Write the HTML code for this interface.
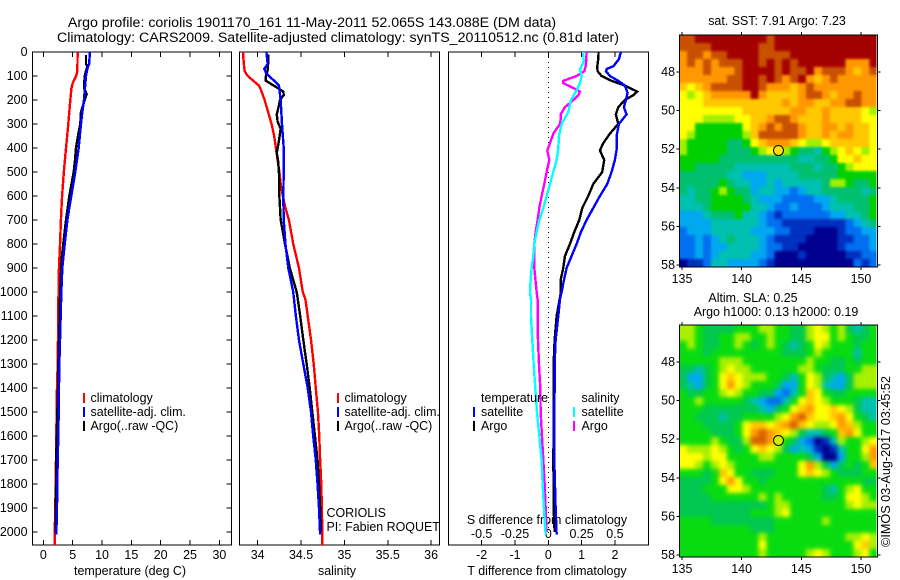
<!DOCTYPE html>
<html lang="en">
<head>
<meta charset="utf-8">
<title>Argo profile</title>
<style>
html,body{margin:0;padding:0;background:#fff;width:900px;height:580px;overflow:hidden}
svg{display:block}
text{font-family:"Liberation Sans",Arial,sans-serif;font-size:12.45px;fill:#000}
text.fig-title{font-size:14.2px}
text.stamp{font-size:12.65px}
</style>
</head>
<body>
<svg id="chart" width="900" height="580" viewBox="0 0 900 580" xmlns="http://www.w3.org/2000/svg">
<defs>
<filter id="blur-sst" x="-5%" y="-5%" width="110%" height="110%" color-interpolation-filters="sRGB"><feGaussianBlur stdDeviation="1.4"/></filter>
<filter id="blur-sla" x="-5%" y="-5%" width="110%" height="110%" color-interpolation-filters="sRGB"><feGaussianBlur stdDeviation="2.2"/></filter>
<clipPath id="clip-sst"><rect x="679.5" y="35" width="197" height="232"/></clipPath>
<clipPath id="clip-sla"><rect x="679.5" y="325" width="197" height="232"/></clipPath>
</defs>
<text class="fig-title" x="312" y="27" text-anchor="middle">Argo profile: coriolis 1901170_161 11-May-2011 52.065S 143.088E (DM data)</text>
<text class="fig-title" x="338" y="42" text-anchor="middle">Climatology: CARS2009. Satellite-adjusted climatology: synTS_20110512.nc (0.81d later)</text>
<text x="777" y="25" text-anchor="middle">sat. SST: 7.91 Argo: 7.23</text>
<text x="753" y="302" text-anchor="middle">Altim. SLA: 0.25</text>
<text x="776" y="316" text-anchor="middle">Argo h1000: 0.13 h2000: 0.19</text>
<text class="stamp" transform="translate(890,547) rotate(-90)">©IMOS 03-Aug-2017 03:45:52</text>
<text x="130" y="575" text-anchor="middle">temperature (deg C)</text>
<text x="337" y="575" text-anchor="middle">salinity</text>
<text x="547" y="575" text-anchor="middle">T difference from climatology</text>
<text x="547" y="524" text-anchor="middle">S difference from climatology</text>
<text x="326.5" y="517">CORIOLIS</text>
<text x="326.5" y="531">PI: Fabien ROQUET</text>
</svg>
<script>
// Axis ticks
const depthTicks = [0,100,200,300,400,500,600,700,800,900,1000,1100,1200,1300,1400,1500,1600,1700,1800,1900,2000];
const tempTicks = [0,5,10,15,20,25,30];
const salTicks = [34,34.5,35,35.5,36];
const tDiffTicks = [-2,-1,0,1,2];
const sDiffTicks = [-0.5,-0.25,0,0.25,0.5];
const lonTicks = [135,140,145,150];
const latTicks = [48,50,52,54,56,58];

// Temperature panel
const tempClimDepth = [0,80,100,130,150,200,300,400,500,600,700,800,900,1000,1100,1200,1300,1400,1500,1600,1700,1800,1900,2000,2054];
const tempClim = [5.85,5.8,5.6,5.0,4.8,4.6,4.26,3.87,3.5,3.2,3.0,2.85,2.67,2.6,2.5,2.5,2.45,2.33,2.28,2.2,2.16,2.1,2.05,1.94,1.94];
const tempSatDepth = [0,50,60,100,150,200,250,300,400,500,600,700,800,900,1000,1100,1200,1300,1400,1500,1600,1700,1800,1900,2010];
const tempSat = [7.95,7.8,7.6,7.27,7.1,6.93,6.65,6.42,6.03,5.45,4.77,4.1,3.65,3.24,3.07,2.96,2.85,2.73,2.67,2.62,2.56,2.45,2.39,2.33,2.22];
const tempArgoDepth = [12,50,60,100,150,175,200,250,300,350,400,450,500,600,700,800,860,1000,1100,1200,1300,1400,1500,1600,1700,1800,1900,2000];
const tempArgo = [7.27,7.27,7.5,7.05,6.93,7.39,7.05,6.42,6.3,5.9,5.57,5.4,5.18,4.43,3.87,3.4,3.13,2.85,2.8,2.67,2.56,2.5,2.39,2.33,2.16,2.16,2.1,2.1];

// Salinity panel
const salClimDepth = [0,50,80,100,120,140,160,200,250,300,350,400,450,500,550,600,650,700,800,900,1000,1030,1100,1200,1300,1400,1500,1600,1700,1800,1900,2000,2054];
const salClim = [33.83,33.84,33.85,33.885,33.95,34.015,34.04,34.08,34.12,34.16,34.19,34.21,34.23,34.25,34.265,34.29,34.32,34.36,34.41,34.476,34.52,34.55,34.577,34.615,34.646,34.67,34.695,34.71,34.72,34.733,34.74,34.745,34.745];
const salSatDepth = [0,50,70,90,120,140,200,300,400,500,600,700,800,900,1000,1100,1200,1300,1400,1500,1600,1700,1800,1900,2010];
const salSat = [34.10,34.115,34.076,34.10,34.19,34.245,34.265,34.28,34.30,34.30,34.295,34.30,34.32,34.353,34.41,34.44,34.476,34.526,34.577,34.615,34.64,34.67,34.69,34.707,34.72];
const salArgoDepth = [10,50,75,100,120,130,150,165,180,200,230,260,290,320,370,420,450,500,600,700,800,900,1000,1100,1200,1300,1400,1500,1600,1700,1800,1900,2000];
const salArgo = [34.12,34.12,34.115,34.095,34.095,34.14,34.23,34.295,34.30,34.257,34.24,34.22,34.23,34.265,34.245,34.22,34.234,34.245,34.25,34.265,34.315,34.37,34.45,34.49,34.526,34.565,34.60,34.63,34.66,34.69,34.707,34.72,34.73];

// Difference panel
const tDiffSatDepth = [0,30,60,70,80,100,120,140,170,200,230,260,300,350,400,450,500,550,600,650,700,750,800,850,900,950,1000,1030,1100,1200,1300,1400,1500,1600,1700,1800,1900,2010];
const tDiffSat = [2.18,2.12,1.95,1.76,1.73,1.85,2.1,2.3,2.38,2.33,2.27,2.35,2.12,2.05,2.06,2.0,1.9,1.77,1.55,1.35,1.15,0.98,0.85,0.7,0.55,0.47,0.4,0.35,0.3,0.22,0.19,0.19,0.18,0.18,0.18,0.2,0.22,0.25];
const tDiffArgoDepth = [0,30,60,80,100,120,140,165,180,200,230,260,300,340,380,410,450,500,550,600,650,700,750,800,850,900,950,1000,1100,1200,1300,1400,1500,1600,1700,1800,1900,2000];
const tDiffArgo = [1.51,1.5,1.47,1.48,1.6,1.9,2.3,2.67,2.55,2.3,2.1,2.03,2.1,1.85,1.65,1.55,1.68,1.62,1.35,1.2,1.02,0.93,0.78,0.65,0.5,0.45,0.37,0.38,0.25,0.19,0.16,0.16,0.16,0.16,0.15,0.16,0.16,0.19];
const sDiffSatDepth = [0,40,75,100,130,160,200,250,300,350,400,450,500,550,600,650,700,750,800,850,900,950,1000,1033,1100,1200,1300,1400,1500,1600,1700,1800,1900,2010];
const sDiffSat = [0.2625,0.265,0.2375,0.25,0.2375,0.2125,0.17,0.15,0.1,0.08,0.075,0.0625,0.0375,0.0125,-0.0125,-0.0375,-0.0675,-0.0875,-0.105,-0.1125,-0.125,-0.1325,-0.1375,-0.13,-0.13,-0.12,-0.11,-0.0975,-0.085,-0.0675,-0.05,-0.0425,-0.0325,-0.02];
const sDiffArgoDepth = [0,30,60,80,100,120,130,150,165,180,200,230,260,280,300,340,380,410,450,500,550,600,650,700,750,800,900,1000,1033,1100,1200,1300,1400,1500,1600,1700,1800,1900,2000];
const sDiffArgo = [0.2875,0.285,0.28,0.27,0.2125,0.1125,0.1125,0.1875,0.2375,0.225,0.1875,0.125,0.0925,0.0925,0.0875,0.0375,0.0125,-0.0075,0.0075,-0.0125,-0.03,-0.05,-0.0675,-0.08,-0.095,-0.105,-0.105,-0.0875,-0.08,-0.08,-0.0775,-0.07,-0.06,-0.0575,-0.0475,-0.0375,-0.0275,-0.02,-0.0125];

// Map cell values: colour-scale levels, north to south, west to east
const sstGrid = [
[11,11,12,12,12,12,12,12,12,12,12,11,12,12,12,12,12,12,12,12,12,12,12,12,12],
[11,11,11,11,12,12,12,12,12,12,11,11,12,12,12,12,12,12,12,12,12,12,12,12,12],
[10,11,11,10,11,11,12,12,12,12,11,11,11,11,12,12,12,12,12,12,12,12,12,12,12],
[10,11,10,11,10,11,11,11,12,12,11,12,11,12,11,12,12,12,12,12,12,10,10,10,12],
[10,10,10,11,10,10,10,11,12,12,12,12,11,12,11,11,12,10,11,11,11,10,9,10,11],
[10,10,10,10,10,10,11,11,12,12,11,12,11,10,11,12,10,9,10,11,10,10,10,10,10],
[9,8,9,10,11,11,11,11,12,12,11,10,10,10,9,10,11,10,10,10,10,10,10,10,10],
[8,7,8,9,10,10,10,10,10,12,10,9,9,9,9,10,11,11,10,9,10,10,11,10,10],
[8,8,8,9,9,9,9,9,9,9,9,9,9,10,9,10,10,9,9,10,10,11,11,10,10],
[8,8,8,8,8,8,8,8,9,9,9,9,9,9,10,10,9,9,10,9,9,9,9,8,7],
[8,8,8,7,7,7,7,8,8,9,9,10,11,11,10,9,9,9,10,9,9,9,9,8,8],
[8,8,6,6,6,6,6,6,8,9,10,11,10,11,11,10,9,9,10,10,9,10,9,9,8],
[8,7,6,6,6,6,6,6,7,9,11,11,11,11,11,10,9,9,10,9,10,10,9,9,8],
[7,6,6,6,6,6,5,5,6,8,9,10,10,10,9,8,7,7,8,9,9,9,9,9,8],
[7,6,6,6,6,6,5,5,5,6,7,8,8,7,6,5,5,4,6,7,8,9,8,7,8],
[6,6,6,6,6,5,5,5,5,5,5,5,5,5,5,4,4,5,5,6,8,8,9,8,8],
[6,6,5,5,5,5,5,4,4,4,4,4,4,4,5,5,5,4,5,5,6,7,8,8,8],
[5,5,5,5,5,5,4,4,3,3,3,4,4,4,4,5,5,5,5,5,6,6,6,6,6],
[5,5,5,5,5,6,5,4,4,3,3,4,3,4,4,4,4,4,5,7,7,6,5,5,6],
[5,4,5,5,6,7,6,5,5,3,4,4,3,3,2,3,4,4,5,5,5,5,5,4,5],
[4,4,5,5,6,6,6,6,5,4,3,3,3,2,2,2,2,3,3,4,5,5,5,5,6],
[4,4,4,5,6,6,6,6,6,4,4,3,2,2,3,2,2,2,3,4,4,4,5,5,6],
[3,3,3,4,5,5,5,6,4,4,3,2,1,2,2,2,2,2,2,3,3,4,4,5,6],
[3,3,3,3,4,4,4,4,4,4,3,2,2,1,1,1,1,1,1,1,1,2,3,4,5],
[2,3,3,3,4,4,4,4,4,3,3,3,2,2,1,1,1,0,0,0,1,2,2,3,3],
[2,2,3,2,3,4,5,4,4,4,3,2,1,1,1,1,0,0,0,0,1,1,2,2,3],
[2,2,3,2,3,3,4,4,4,4,3,2,2,1,1,0,0,0,0,0,1,2,2,2,3],
[2,2,3,2,3,4,4,4,4,3,3,2,0,0,0,1,0,0,0,0,0,1,1,2,2],
[0,1,1,2,4,4,3,3,3,3,2,1,0,0,0,0,0,0,0,0,0,0,2,1,2]
];
const slaGrid = [
[7,7,6,5,5,5,5,6,6,6,7,7,6,6,5,5,7,8,7,6,7,5,4,5,6],
[7,7,6,5,5,6,6,7,7,6,6,7,6,6,5,5,7,8,8,6,7,6,5,5,6],
[6,7,6,5,5,6,6,7,6,5,6,7,6,5,4,5,6,8,7,6,6,6,5,6,6],
[6,6,6,5,6,6,6,6,6,6,6,6,6,5,5,5,6,7,6,6,6,6,4,6,6],
[6,6,6,6,6,7,7,7,6,6,6,6,6,6,6,6,7,6,6,5,5,6,5,6,6],
[5,5,4,5,6,7,8,7,7,6,6,6,6,6,6,7,7,6,5,5,5,6,6,7,7],
[5,3,3,5,6,8,9,8,7,7,7,6,6,5,4,6,8,7,5,4,3,5,7,7,7],
[5,4,3,5,6,8,10,8,7,6,6,6,5,3,3,6,8,7,4,3,3,5,7,7,7],
[6,5,5,6,6,7,8,7,6,6,5,5,3,2,4,6,9,8,6,5,5,6,6,6,6],
[6,6,7,6,6,6,6,6,5,4,3,2,2,4,6,8,9,8,7,6,6,6,5,4,4],
[6,6,6,5,5,5,5,5,5,5,4,3,5,6,8,9,10,8,8,9,8,7,5,4,4],
[6,6,5,5,5,4,5,5,6,6,6,6,7,8,10,11,9,8,8,9,10,8,6,5,4],
[6,6,6,5,5,5,5,6,8,9,9,8,9,10,11,9,8,7,7,8,10,9,7,6,6],
[6,6,6,6,5,5,5,6,8,10,11,10,9,8,7,5,4,4,5,6,9,10,8,6,6],
[6,6,6,6,7,6,5,5,7,11,11,10,8,6,5,3,2,0,1,4,7,6,6,7,8],
[8,7,7,7,8,7,6,5,6,8,9,8,7,5,3,4,3,1,0,1,4,6,6,8,10],
[8,8,8,7,8,8,6,6,6,6,7,7,6,6,6,6,5,3,0,0,3,6,6,7,10],
[8,8,7,6,7,8,7,6,6,6,6,6,6,6,6,8,10,7,5,3,5,6,5,6,9],
[6,6,6,5,6,9,8,6,6,5,5,5,6,6,6,8,9,8,7,6,5,5,5,6,6],
[5,5,5,5,6,8,10,8,6,6,5,6,6,6,6,6,6,6,6,6,6,6,6,5,5],
[5,5,5,6,6,6,8,8,7,6,6,6,6,6,6,6,6,6,5,4,6,7,8,6,6],
[5,5,5,5,6,6,6,6,6,6,7,6,7,6,6,6,6,6,5,5,6,8,8,7,6],
[5,5,5,5,5,5,5,5,5,5,5,6,7,7,6,6,6,6,6,6,6,7,8,7,7],
[5,5,5,5,5,5,5,5,5,6,6,6,7,8,6,6,6,6,6,6,6,6,6,6,6],
[6,6,6,6,5,5,5,5,5,5,5,5,6,6,6,6,6,6,7,6,6,6,6,6,6],
[6,6,6,6,6,6,6,6,6,5,5,5,6,6,6,6,6,6,6,6,6,6,6,6,6],
[6,6,6,6,6,6,6,6,6,6,7,6,6,6,6,6,6,6,6,6,6,7,7,8,7],
[6,6,6,6,6,6,6,6,6,6,8,6,6,6,6,6,6,6,6,6,6,6,8,9,7],
[6,6,6,6,6,6,6,6,6,6,7,6,6,6,6,6,7,8,7,6,6,6,7,8,6]
];
const argoLon = 143.088;
const argoLat = 52.065;

const sstColours = ['#000090','#0030c0','#0070f0','#00a8f0','#00c0b0','#00c070','#00d000','#a0f000','#ffff00','#ffc800','#ff9800','#c85000','#a50000'];
const slaColours = ['#000090','#0030c0','#0070f0','#00a8f0','#00c0b0','#00c850','#08dc10','#a8f000','#ffff00','#ffc800','#ff9800','#d86000','#a50000'];
const NS = 'http://www.w3.org/2000/svg';
const svg = document.getElementById('chart');

function make(tag, attrs, name, parent) {
  const el = document.createElementNS(NS, tag);
  for (const k in attrs) el.setAttribute(k, attrs[k]);
  
  
  (parent || svg).appendChild(el);
  return el;
}
function label(x, y, str, anchor, name, parent) {
  const t = make('text', {x: x, y: y, 'text-anchor': anchor}, name, parent);
  t.textContent = str;
  return t;
}
function segment(x1, y1, x2, y2, name, parent) {
  return make('line', {x1: x1, y1: y1, x2: x2, y2: y2, stroke: '#000', 'stroke-width': 1, 'shape-rendering': 'crispEdges'}, name, parent);
}

// Depth axis shared by the profile panels
const PLOT_TOP = 52, PLOT_BOTTOM = 545;
function yDepth(d) { return PLOT_TOP + d * 0.24; }
function xTemp(v) { return 43.3 + v * 5.87; }
function xSal(v) { return 257.7 + (v - 34) * 86.7; }
function xTDiff(v) { return 548.3 + v * 33.3; }
function xSDiff(v) { return 548.3 + v * 133.3; }

function drawSeries(depths, values, xFn, colour, name, parent) {
  const pts = depths.map(function (d, i) { return xFn(values[i]) + ',' + yDepth(d); }).join(' ');
  return make('polyline', {points: pts, fill: 'none', stroke: colour, 'stroke-width': 2.4, 'shape-rendering': 'crispEdges'}, name, parent);
}
function panelFrame(left, right, name) {
  const g = make('g', {}, name);
  make('rect', {x: left, y: PLOT_TOP, width: right - left, height: PLOT_BOTTOM - PLOT_TOP, fill: 'none', stroke: '#000', 'stroke-width': 1, 'shape-rendering': 'crispEdges'}, name + '-frame', g);
  return g;
}
function xTickMarks(ticks, xFn, g, name) {
  ticks.forEach(function (t) {
    segment(xFn(t), PLOT_TOP, xFn(t), PLOT_TOP + 5, name + '-tick-top', g);
    segment(xFn(t), PLOT_BOTTOM, xFn(t), PLOT_BOTTOM - 5, name + '-tick-bottom', g);
  });
}
function legendRow(swatchX, textX, y, colour, str, name, parent) {
  make('rect', {x: swatchX, y: y - 9, width: 2, height: 10, fill: colour, 'shape-rendering': 'crispEdges'}, name + '-swatch', parent);
  label(textX, y, str, 'start', name + '-label', parent);
}

// Temperature panel
const p1 = panelFrame(32.5, 231.5, 'temperature-panel');
xTickMarks(tempTicks, xTemp, p1, 'temperature');
tempTicks.forEach(function (t) { label(xTemp(t), 559, String(t), 'middle', 'temperature-tick-label', p1); });
depthTicks.forEach(function (d) {
  segment(32.5, yDepth(d), 37.5, yDepth(d), 'depth-tick-left', p1);
  segment(226.5, yDepth(d), 231.5, yDepth(d), 'depth-tick-right', p1);
  label(27.5, yDepth(d) + 4, String(d), 'end', 'depth-tick-label', p1);
});
drawSeries(tempClimDepth, tempClim, xTemp, '#ff0000', 'temperature-climatology-line', p1);
drawSeries(tempArgoDepth, tempArgo, xTemp, '#000000', 'temperature-argo-line', p1);
drawSeries(tempSatDepth, tempSat, xTemp, '#0000ff', 'temperature-satellite-line', p1);
legendRow(83, 90.5, 402, '#ff0000', 'climatology', 'temperature-legend-climatology', p1);
legendRow(83, 90.5, 416, '#0000ff', 'satellite-adj. clim.', 'temperature-legend-satellite', p1);
legendRow(83, 90.5, 430, '#000000', 'Argo(..raw -QC)', 'temperature-legend-argo', p1);

// Salinity panel
const p2 = panelFrame(239.5, 439.5, 'salinity-panel');
xTickMarks(salTicks, xSal, p2, 'salinity');
salTicks.forEach(function (t) { label(xSal(t), 559, String(t), 'middle', 'salinity-tick-label', p2); });
drawSeries(salClimDepth, salClim, xSal, '#ff0000', 'salinity-climatology-line', p2);
drawSeries(salArgoDepth, salArgo, xSal, '#000000', 'salinity-argo-line', p2);
drawSeries(salSatDepth, salSat, xSal, '#0000ff', 'salinity-satellite-line', p2);
legendRow(337, 344.5, 402, '#ff0000', 'climatology', 'salinity-legend-climatology', p2);
legendRow(337, 344.5, 416, '#0000ff', 'satellite-adj. clim.', 'salinity-legend-satellite', p2);
legendRow(337, 344.5, 430, '#000000', 'Argo(..raw -QC)', 'salinity-legend-argo', p2);

// Difference panel
const p3 = panelFrame(448.5, 648.5, 'difference-panel');
xTickMarks(tDiffTicks, xTDiff, p3, 'difference');
tDiffTicks.forEach(function (t) { label(xTDiff(t), 559, String(t), 'middle', 't-difference-tick-label', p3); });
sDiffTicks.forEach(function (t) { label(xSDiff(t), 538, String(t), 'middle', 's-difference-tick-label', p3); });
make('line', {x1: xTDiff(0), y1: PLOT_TOP, x2: xTDiff(0), y2: PLOT_BOTTOM, stroke: '#000', 'stroke-width': 1, 'stroke-dasharray': '1 4', 'shape-rendering': 'crispEdges'}, 'zero-difference-line', p3);
drawSeries(tDiffArgoDepth, tDiffArgo, xTDiff, '#000000', 't-difference-argo-line', p3);
drawSeries(tDiffSatDepth, tDiffSat, xTDiff, '#0000ff', 't-difference-satellite-line', p3);
drawSeries(sDiffArgoDepth, sDiffArgo, xSDiff, '#ff00ff', 's-difference-argo-line', p3);
drawSeries(sDiffSatDepth, sDiffSat, xSDiff, '#00ffff', 's-difference-satellite-line', p3);
label(481, 402, 'temperature', 'start', 'legend-temperature-heading', p3);
legendRow(473, 481, 416, '#0000ff', 'satellite', 'legend-t-satellite', p3);
legendRow(473, 481, 430, '#000000', 'Argo', 'legend-t-argo', p3);
label(581.5, 402, 'salinity', 'start', 'legend-salinity-heading', p3);
legendRow(573, 581.5, 416, '#00ffff', 'satellite', 'legend-s-satellite', p3);
legendRow(573, 581.5, 430, '#ff00ff', 'Argo', 'legend-s-argo', p3);

// Maps
const LON_START = 134.77, LON_STEP = 0.664, LAT_START = 46.08, LAT_STEP = 0.4145;
const EDGE_BLEED = 12;
function xLon(lon) { return 682 + (lon - 135) * 11.93; }
function drawMap(grid, colours, tickY48, top, bottom, clipId, blurId, markerFill, name) {
  const yLat = function (lat) { return tickY48 + (lat - 48) * 19.3; };
  const g = make('g', {}, name);
  const clip = make('g', {'clip-path': 'url(#' + clipId + ')'}, name + '-image', g);
  const cells = make('g', {filter: 'url(#' + blurId + ')'}, name + '-cells', clip);
  grid.forEach(function (row, r) {
    row.forEach(function (v, c) {
      // outermost cells bleed past the clip so the smoothing does not fade at the frame
      const x0 = xLon(LON_START + c * LON_STEP) - (c === 0 ? EDGE_BLEED : 0);
      const x1 = xLon(LON_START + (c + 1) * LON_STEP) + (c === row.length - 1 ? EDGE_BLEED : 0);
      const y0 = yLat(LAT_START + r * LAT_STEP) - (r === 0 ? EDGE_BLEED : 0);
      const y1 = yLat(LAT_START + (r + 1) * LAT_STEP) + (r === grid.length - 1 ? EDGE_BLEED : 0);
      make('rect', {x: x0, y: y0, width: x1 - x0 + 0.4, height: y1 - y0 + 0.4, fill: colours[v], 'shape-rendering': 'crispEdges'}, name + '-cell', cells);
    });
  });
  make('rect', {x: 679.5, y: top, width: 198, height: bottom - top, fill: 'none', stroke: '#000', 'stroke-width': 1, 'shape-rendering': 'crispEdges'}, name + '-frame', g);
  lonTicks.forEach(function (t) {
    segment(xLon(t), top - 3, xLon(t), top, name + '-lon-tick-top', g);
    segment(xLon(t), bottom, xLon(t), bottom + 3, name + '-lon-tick-bottom', g);
    label(xLon(t), bottom + 16, String(t), 'middle', name + '-lon-tick-label', g);
  });
  latTicks.forEach(function (t) {
    segment(676.5, yLat(t), 679.5, yLat(t), name + '-lat-tick-left', g);
    segment(877.5, yLat(t), 880.5, yLat(t), name + '-lat-tick-right', g);
    label(675, yLat(t) + 4, String(t), 'end', name + '-lat-tick-label', g);
  });
  make('circle', {cx: xLon(argoLon), cy: yLat(argoLat), r: 5, fill: markerFill, stroke: '#000', 'stroke-width': 1}, name + '-argo-position', g);
}
drawMap(sstGrid, sstColours, 72, 35, 267, 'clip-sst', 'blur-sst', '#ffe000', 'sst-map');
drawMap(slaGrid, slaColours, 362, 325, 557, 'clip-sla', 'blur-sla', '#c8f000', 'sla-map');
</script>
</body>
</html>
